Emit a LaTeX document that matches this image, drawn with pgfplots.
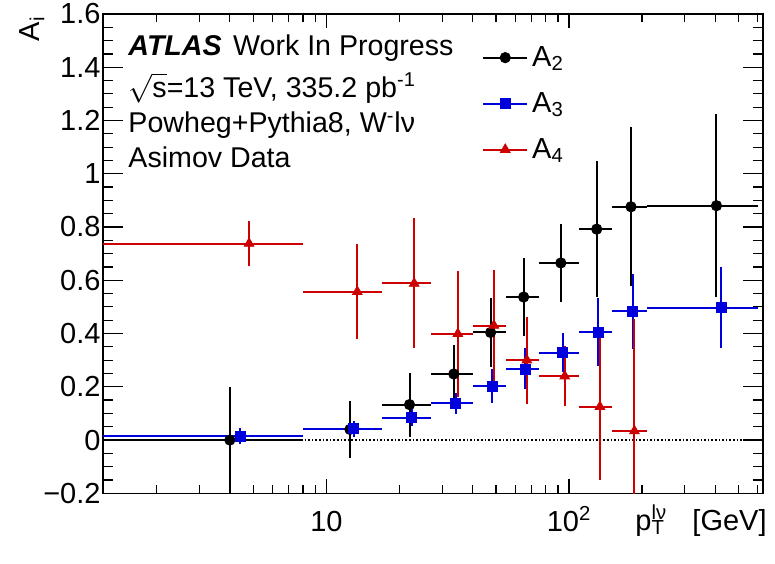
\documentclass[border=0pt]{standalone}
\usepackage{fontspec}
\setmainfont{Liberation Sans}
\usepackage{pgfplots}
\usepackage{pgfplotstable}
\pgfplotsset{compat=1.18}
\usetikzlibrary{calc}

\definecolor{rootblue}{HTML}{0000DD}
\definecolor{rootred}{HTML}{CC0000}
\newcommand{\rfont}{\fontsize{14.3}{17}\selectfont}
\newcommand{\tfont}{\fontsize{14.5}{17}\selectfont}
\newcommand{\lfont}{\fontsize{14.5}{17}\selectfont}

% bins: 0-8, 8-17, 17-27, 27-40, 40-55, 55-75, 75-110, 110-150, 150-210, 210-600
% x = marker position, exp/exm = distance to bin edges, ey = symmetric error
\pgfplotstableread{
x     y      exp    exm    ey
4     0.000  4      3      0.200
12.5  0.040  4.5    4.5    0.107
22    0.133  5      5      0.120
33.5  0.248  6.5    6.5    0.110
47.5  0.404  7.5    7.5    0.131
65    0.537  10     10     0.148
92.5  0.665  17.5   17.5   0.145
130   0.792  20     20     0.255
180   0.876  30     30     0.298
405   0.880  195    195    0.344
}\tabAtwo

\pgfplotstableread{
x      y      exp    exm    ey
4.4    0.015  3.6    3.4    0.030
12.95  0.042  4.05   4.95   0.030
22.5   0.084  4.5    5.5    0.033
34.15  0.138  5.85   7.15   0.040
48.25  0.203  6.75   8.25   0.064
66     0.267  9      11     0.077
94.25  0.328  15.75  19.25  0.074
132    0.406  18     22     0.127
183    0.483  27     33     0.141
424.5  0.497  175.5  214.5  0.151
}\tabAthree

\pgfplotstableread{
x     y      exp    exm    ey
4.8   0.738  3.2    3.8    0.085
13.4  0.557  3.6    5.4    0.178
23    0.588  4      6      0.244
34.8  0.399  5.2    7.8    0.237
49    0.430  6      9      0.210
67    0.300  8      12     0.163
96    0.240  14     21     0.114
134   0.125  16     24     0.275
186   0.034  24     36     0.420
}\tabAfour

\begin{document}
\begin{tikzpicture}
\begin{axis}[
  name=ax,
  scale only axis,
  width=330pt, height=239.65pt,
  xmode=log,
  xmin=1.2, xmax=630,
  ymin=-0.2, ymax=1.6,
  xtick={10,100},
  xticklabels={10,10\textsuperscript{2}},
  minor xtick={2,3,4,5,6,7,8,9,20,30,40,50,60,70,80,90,200,300,400,500,600},
  ytick={-0.2,0,0.2,0.4,0.6,0.8,1,1.2,1.4,1.6},
  yticklabels={−0.2,0,0.2,0.4,0.6,0.8,1,1.2,1.4,1.6},
  minor y tick num=3,
  tick align=inside,
  major tick length=10pt, minor tick length=5pt,
  xtick style={/pgfplots/major tick length=7pt, /pgfplots/minor tick length=3.9pt},
  tick style={black, line width=0.6pt},
  axis line style={line width=0.6pt},
  ticklabel style={font=\tfont},
  xticklabel style={anchor=base, yshift=-18.9pt},
  yticklabel style={xshift=2.3pt},
  xlabel={p\rlap{\textsuperscript{lν}}\textsubscript{T}\hspace{0.95em}[GeV]},
  ylabel={A\textsubscript{i}},
  every axis x label/.style={at={(rel axis cs:1,0)}, anchor=base east, inner sep=0pt,
    xshift=2pt, yshift=-18.4pt, font=\lfont},
  every axis y label/.style={at={(rel axis cs:0,1)}, xshift=-35.5pt, yshift=-1pt,
    rotate=90, anchor=east, inner sep=0pt, font=\lfont},
  legend style={at={(rel axis cs:0.574,0.942)}, anchor=north west, draw=none, fill=none,
    font=\tfont, inner sep=0pt, row sep=7.5pt},
  legend cell align=left,
  legend image code/.code={\draw[#1, sharp plot, mark repeat=2, mark phase=2]
    plot coordinates {(0pt,0pt) (11pt,0pt) (22pt,0pt)};},
  error bars/error mark=none,
]
  % zero reference line
  \addplot[black, densely dotted, line width=0.8pt, forget plot] coordinates {(1.2,0) (630,0)};

  \addplot[black, only marks, mark=*, mark size=2.6pt, line width=1pt,
    mark options={line width=0.4pt},
    error bars/.cd, x dir=both, x explicit, y dir=both, y explicit,
    error bar style={line width=1pt}]
    table[x=x, y=y, x error plus=exp, x error minus=exm, y error=ey] {\tabAtwo};
  \addlegendentry{A\textsubscript{2}}

  \addplot[rootblue, only marks, mark=square*, mark size=2.5pt, line width=1pt,
    mark options={line width=0.4pt},
    error bars/.cd, x dir=both, x explicit, y dir=both, y explicit,
    error bar style={line width=1pt}]
    table[x=x, y=y, x error plus=exp, x error minus=exm, y error=ey] {\tabAthree};
  \addlegendentry{A\textsubscript{3}}

  \addplot[rootred, only marks, mark=triangle*, mark size=2.8pt, line width=1pt,
    mark options={line width=0.4pt},
    error bars/.cd, x dir=both, x explicit, y dir=both, y explicit,
    error bar style={line width=1pt}]
    table[x=x, y=y, x error plus=exp, x error minus=exm, y error=ey] {\tabAfour};
  \addlegendentry{A\textsubscript{4}}

  \node[anchor=base west, font=\rfont, inner sep=0pt] at (rel axis cs:0.038,0.9124)
    {\textbf{\textit{ATLAS}}\hspace{0.4em}Work In Progress};
  \node[anchor=base west, font=\rfont, inner sep=0pt] at (rel axis cs:0.038,0.8268)
    {$\sqrt{\mbox{s}}$=13 TeV, 335.2 pb\textsuperscript{-1}};
  \node[anchor=base west, font=\rfont, inner sep=0pt] at (rel axis cs:0.038,0.7517)
    {Powheg+Pythia8, W\textsuperscript{-}lν};
  \node[anchor=base west, font=\rfont, inner sep=0pt] at (rel axis cs:0.038,0.6787)
    {Asimov Data};
\end{axis}
\pgfresetboundingbox
\path ($(ax.south west)+(-51.5pt,-35.35pt)$) rectangle ($(ax.north east)+(6pt,7pt)$);
\end{tikzpicture}
\end{document}
